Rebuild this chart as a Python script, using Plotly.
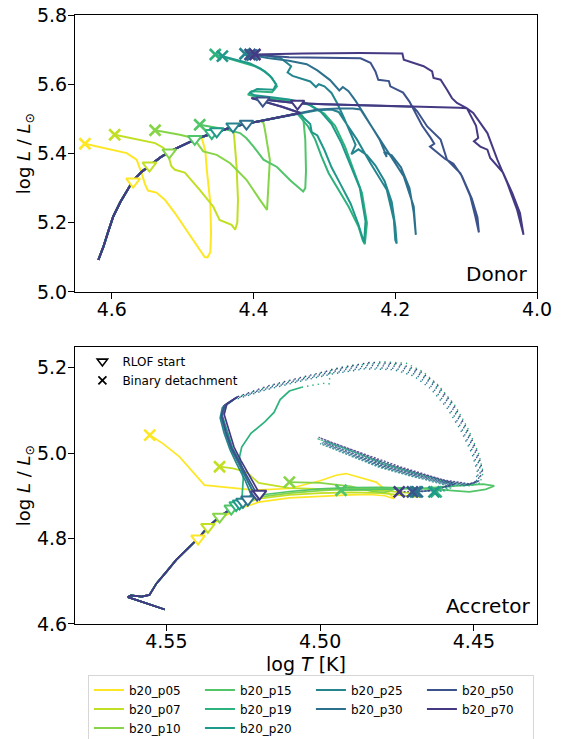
import plotly.graph_objects as go

NAMES = ["b20_p05", "b20_p07", "b20_p10", "b20_p15", "b20_p19",
         "b20_p20", "b20_p25", "b20_p30", "b20_p50", "b20_p70"]
COLORS = ["#fde725", "#c2df23", "#86d549", "#52c569", "#2db27d",
          "#1f9a8a", "#25858e", "#2d708e", "#3b528b", "#443a83"]
LEGEND_RANK = [1, 5, 9, 2, 6, 10, 3, 7, 4, 8]

# ---------------- Donor (top panel) ----------------
MS_DX = [4.619, 4.612, 4.605, 4.598, 4.588, 4.578, 4.570, 4.558, 4.546, 4.532, 4.518,
         4.500, 4.483, 4.470, 4.457, 4.443, 4.429, 4.410, 4.390, 4.370, 4.350, 4.334]
MS_DY = [5.093, 5.130, 5.175, 5.218, 5.260, 5.295, 5.322, 5.347, 5.367, 5.388, 5.406,
         5.424, 5.440, 5.450, 5.459, 5.468, 5.477, 5.486, 5.494, 5.502, 5.510, 5.517]
N_MS_D = [13, 17, 19, 22, 22, 22, 22, 22, 22, 22]
HOOK_DX = [4.360, 4.385, 4.403, 4.387, 4.360, 4.338]
HOOK_DY = [5.535, 5.550, 5.560, 5.556, 5.550, 5.545]
USE_HOOK = [False, False, False, False, False, False, False, False, True, True]

D05_X = [4.473, 4.468, 4.466, 4.461, 4.460, 4.461, 4.465, 4.469, 4.476, 4.492, 4.511, 4.525,
         4.537, 4.549, 4.553, 4.558, 4.565, 4.579, 4.638]
D05_Y = [5.445, 5.406, 5.353, 5.257, 5.170, 5.115, 5.100, 5.101, 5.122, 5.170, 5.228, 5.266,
         5.287, 5.293, 5.310, 5.343, 5.382, 5.401, 5.428]
D07_X = [4.427, 4.424, 4.422, 4.423, 4.426, 4.431, 4.448, 4.457, 4.476, 4.497, 4.511, 4.516,
         4.520, 4.527, 4.539, 4.596]
D07_Y = [5.440, 5.363, 5.266, 5.200, 5.180, 5.194, 5.208, 5.247, 5.295, 5.345, 5.353, 5.363,
         5.392, 5.416, 5.430, 5.454]
D10_X = [4.386, 4.384, 4.377, 4.379, 4.381, 4.391, 4.410, 4.433, 4.452, 4.471, 4.476, 4.485,
         4.504, 4.539]
D10_Y = [5.488, 5.469, 5.382, 5.286, 5.237, 5.266, 5.324, 5.372, 5.396, 5.406, 5.421, 5.445,
         5.454, 5.467]
D15_X = [4.330, 4.327, 4.326, 4.327, 4.330, 4.348, 4.367, 4.386, 4.400, 4.410, 4.419, 4.440,
         4.460, 4.476]
D15_Y = [5.505, 5.440, 5.350, 5.300, 5.290, 5.322, 5.361, 5.382, 5.420, 5.444, 5.459, 5.470,
         5.477, 5.483]
D19_X = [4.337, 4.323, 4.313, 4.304, 4.294, 4.280, 4.266, 4.252, 4.246, 4.243, 4.240, 4.247,
         4.261, 4.271, 4.285, 4.300, 4.320, 4.345, 4.365, 4.394, 4.408, 4.403, 4.374, 4.367,
         4.374, 4.384, 4.398, 4.421, 4.454]
D19_Y = [5.512, 5.478, 5.440, 5.391, 5.343, 5.295, 5.247, 5.189, 5.150, 5.138, 5.199, 5.286,
         5.363, 5.420, 5.480, 5.515, 5.540, 5.552, 5.556, 5.563, 5.570, 5.580, 5.577, 5.594,
         5.618, 5.637, 5.652, 5.666, 5.686]
D20_X = [4.335, 4.320, 4.318, 4.310, 4.300, 4.290, 4.277, 4.263, 4.252, 4.247, 4.244, 4.242,
         4.250, 4.265, 4.276, 4.290, 4.305, 4.325, 4.350, 4.372, 4.398, 4.406, 4.395, 4.372,
         4.368, 4.377, 4.390, 4.405, 4.444]
D20_Y = [5.514, 5.485, 5.462, 5.452, 5.410, 5.360, 5.310, 5.255, 5.195, 5.160, 5.142, 5.205,
         5.300, 5.375, 5.430, 5.485, 5.520, 5.545, 5.556, 5.562, 5.568, 5.575, 5.586, 5.584,
         5.600, 5.625, 5.645, 5.660, 5.681]
D25_X = [4.310, 4.290, 4.280, 4.273, 4.254, 4.235, 4.212, 4.202, 4.200, 4.198, 4.200, 4.205,
         4.215, 4.228, 4.240, 4.252, 4.262, 4.256, 4.265, 4.274, 4.282, 4.290, 4.300, 4.308,
         4.312, 4.320, 4.345, 4.352, 4.347, 4.362, 4.385, 4.412]
D25_Y = [5.525, 5.527, 5.520, 5.498, 5.440, 5.372, 5.295, 5.208, 5.150, 5.140, 5.190, 5.260,
         5.320, 5.365, 5.395, 5.412, 5.398, 5.425, 5.470, 5.510, 5.545, 5.575, 5.594, 5.600,
         5.592, 5.608, 5.624, 5.634, 5.652, 5.676, 5.684, 5.688]
D30_X = [4.310, 4.280, 4.260, 4.249, 4.231, 4.212, 4.188, 4.174, 4.172, 4.171, 4.174, 4.180,
         4.192, 4.205, 4.216, 4.212, 4.222, 4.236, 4.246, 4.256, 4.266, 4.274, 4.279, 4.292,
         4.310, 4.325, 4.350, 4.380, 4.402]
D30_Y = [5.527, 5.530, 5.530, 5.527, 5.469, 5.411, 5.334, 5.247, 5.170, 5.165, 5.230, 5.300,
         5.360, 5.395, 5.405, 5.390, 5.440, 5.488, 5.520, 5.552, 5.580, 5.592, 5.582, 5.612,
         5.640, 5.658, 5.668, 5.676, 5.684]
D50_X = [4.300, 4.250, 4.200, 4.175, 4.169, 4.155, 4.136, 4.127, 4.108, 4.094, 4.087, 4.082,
         4.084, 4.092, 4.106, 4.118, 4.130, 4.151, 4.145, 4.150, 4.162, 4.172, 4.180, 4.189,
         4.207, 4.209, 4.224, 4.228, 4.235, 4.249, 4.300, 4.350, 4.405]
D50_Y = [5.542, 5.540, 5.538, 5.535, 5.522, 5.478, 5.440, 5.382, 5.343, 5.276, 5.218, 5.172,
         5.215, 5.270, 5.335, 5.370, 5.385, 5.420, 5.428, 5.445, 5.480, 5.520, 5.550, 5.576,
         5.594, 5.609, 5.613, 5.637, 5.662, 5.675, 5.676, 5.678, 5.686]
D70_X = [4.300, 4.250, 4.200, 4.150, 4.110, 4.099, 4.090, 4.070, 4.056, 4.042, 4.028, 4.019,
         4.024, 4.035, 4.048, 4.060, 4.066, 4.070, 4.080, 4.089, 4.083, 4.086, 4.094, 4.099,
         4.113, 4.120, 4.127, 4.136, 4.146, 4.148, 4.160, 4.174, 4.188, 4.190, 4.250, 4.330,
         4.398]
D70_Y = [5.542, 5.540, 5.537, 5.534, 5.532, 5.531, 5.517, 5.459, 5.382, 5.315, 5.237, 5.165,
         5.228, 5.286, 5.345, 5.375, 5.387, 5.411, 5.420, 5.435, 5.445, 5.480, 5.510, 5.531,
         5.546, 5.560, 5.584, 5.613, 5.618, 5.637, 5.652, 5.662, 5.671, 5.689, 5.690, 5.689,
         5.686]
D_POST_X = [D05_X, D07_X, D10_X, D15_X, D19_X, D20_X, D25_X, D30_X, D50_X, D70_X]
D_POST_Y = [D05_Y, D07_Y, D10_Y, D15_Y, D19_Y, D20_Y, D25_Y, D30_Y, D50_Y, D70_Y]

RLOF_D_X = [4.570, 4.547, 4.519, 4.483, 4.459, 4.452, 4.429, 4.410, 4.387, 4.338]
RLOF_D_Y = [5.319, 5.365, 5.403, 5.442, 5.459, 5.464, 5.478, 5.486, 5.553, 5.544]
DET_D_X = [4.638, 4.596, 4.539, 4.476, 4.454, 4.444, 4.412, 4.402, 4.405, 4.398]
DET_D_Y = [5.428, 5.454, 5.467, 5.483, 5.686, 5.681, 5.688, 5.684, 5.686, 5.686]

# ---------------- Accretor (bottom panel) ----------------
MS_AX = [4.5505, 4.5555, 4.5600, 4.5625, 4.5615, 4.5580, 4.5555, 4.5532, 4.5500, 4.5468,
         4.5424, 4.5397, 4.5365, 4.5327, 4.5289, 4.5262, 4.5235, 4.5197]
MS_AY = [4.634, 4.646, 4.657, 4.663, 4.667, 4.664, 4.668, 4.695, 4.722, 4.750,
         4.781, 4.800, 4.827, 4.851, 4.870, 4.882, 4.894, 4.905]
N_MS_A = [12, 13, 14, 15, 15, 16, 16, 17, 17, 18]

A05_X = [4.5365, 4.5330, 4.5270, 4.5200, 4.5100, 4.5000, 4.4900, 4.4840, 4.4790, 4.4759,
         4.4786, 4.4818, 4.4872, 4.4916, 4.4948, 4.5000, 4.5100, 4.5213, 4.5376, 4.5457,
         4.5511, 4.5554]
A05_Y = [4.822, 4.845, 4.868, 4.885, 4.895, 4.899, 4.902, 4.903, 4.900, 4.893,
         4.913, 4.932, 4.944, 4.952, 4.948, 4.935, 4.917, 4.913, 4.925, 4.991,
         5.022, 5.042]
A07_X = [4.5327, 4.5289, 4.5250, 4.5200, 4.5100, 4.5000, 4.4900, 4.4800, 4.4720, 4.4680,
         4.4700, 4.4800, 4.4950, 4.5100, 4.5200, 4.5240, 4.5284, 4.5327]
A07_Y = [4.848, 4.866, 4.880, 4.893, 4.902, 4.906, 4.908, 4.906, 4.900, 4.897,
         4.906, 4.912, 4.915, 4.918, 4.930, 4.956, 4.964, 4.968]
A10_X = [4.5289, 4.5250, 4.5200, 4.5100, 4.5000, 4.4900, 4.4800, 4.4760, 4.4790, 4.4830,
         4.4900, 4.5000, 4.5100]
A10_Y = [4.869, 4.884, 4.897, 4.906, 4.912, 4.916, 4.918, 4.915, 4.908, 4.910,
         4.922, 4.930, 4.932]
A15_X = [4.5262, 4.5230, 4.5180, 4.5100, 4.5000, 4.4900, 4.4800, 4.4700, 4.4590, 4.4515,
         4.4462, 4.4434, 4.4470, 4.4560, 4.4680, 4.4800, 4.4932]
A15_Y = [4.880, 4.892, 4.903, 4.910, 4.916, 4.919, 4.920, 4.918, 4.913, 4.909,
         4.915, 4.923, 4.927, 4.922, 4.917, 4.915, 4.913]

# left arm (solid), loop (dotted), band (dense) for long-period accretors
L19_X = [4.5255, 4.5250, 4.5262, 4.5255, 4.5225, 4.5180, 4.5150, 4.5130, 4.5100, 4.5060]
L19_Y = [4.885, 4.940, 4.991, 5.014, 5.046, 5.073, 5.095, 5.125, 5.145, 5.154]
O19_X = [4.5060, 4.4990, 4.4970, 4.4968, 4.4900, 4.4800, 4.4720, 4.4665, 4.4615, 4.4560,
         4.4518, 4.4485, 4.4470, 4.4480]
O19_Y = [5.154, 5.163, 5.162, 5.195, 5.205, 5.214, 5.210, 5.190, 5.158, 5.110,
         5.055, 5.000, 4.955, 4.930]
B19_X = [4.4480, 4.4512, 4.4590, 4.4680, 4.4790, 4.4895, 4.4985, 4.5010, 4.4960, 4.4850,
         4.4740, 4.4630, 4.4560, 4.4590, 4.4623]
B19_Y = [4.930, 4.923, 4.932, 4.950, 4.972, 5.004, 5.028, 5.034, 5.020, 4.992,
         4.965, 4.942, 4.925, 4.912, 4.909]
L20_X = [4.5235, 4.5215, 4.5240, 4.5262, 4.5285, 4.5302, 4.5318, 4.5308, 4.5272]
L20_Y = [4.893, 4.905, 4.942, 4.981, 5.012, 5.051, 5.087, 5.112, 5.130]
O20_X = [4.5272, 4.5168, 4.5058, 4.4952, 4.4843, 4.4748, 4.4682, 4.4627, 4.4572, 4.4529,
         4.4493, 4.4475, 4.4486]
O20_Y = [5.130, 5.156, 5.176, 5.195, 5.209, 5.207, 5.191, 5.160, 5.114, 5.060,
         5.003, 4.959, 4.934]
B20_X = [4.4486, 4.4518, 4.4595, 4.4683, 4.4790, 4.4898, 4.4985, 4.4965, 4.4860, 4.4750,
         4.4645, 4.4565, 4.4600, 4.4630]
B20_Y = [4.934, 4.927, 4.935, 4.951, 4.973, 5.005, 5.028, 5.022, 4.994, 4.966,
         4.944, 4.927, 4.913, 4.909]
L25_X = [4.5230, 4.5225, 4.5245, 4.5272, 4.5293, 4.5312, 4.5325, 4.5318, 4.5285]
L25_Y = [4.895, 4.904, 4.938, 4.976, 5.008, 5.046, 5.082, 5.106, 5.123]
O25_X = [4.5285, 4.5180, 4.5070, 4.4960, 4.4855, 4.4760, 4.4695, 4.4640, 4.4586, 4.4542,
         4.4506, 4.4488, 4.4497]
O25_Y = [5.123, 5.147, 5.167, 5.185, 5.197, 5.195, 5.180, 5.150, 5.104, 5.052,
         4.998, 4.954, 4.930]
B25_X = [4.4497, 4.4530, 4.4610, 4.4700, 4.4810, 4.4915, 4.5000, 4.4980, 4.4880, 4.4770,
         4.4660, 4.4580, 4.4640, 4.4690]
B25_Y = [4.930, 4.923, 4.930, 4.945, 4.967, 4.998, 5.022, 5.016, 4.988, 4.960,
         4.938, 4.922, 4.911, 4.909]
L30_X = [4.5215, 4.5240, 4.5268, 4.5290, 4.5308, 4.5322, 4.5314, 4.5280]
L30_Y = [4.904, 4.940, 4.978, 5.010, 5.048, 5.085, 5.110, 5.126]
O30_X = [4.5280, 4.5175, 4.5066, 4.4955, 4.4850, 4.4755, 4.4690, 4.4636, 4.4582, 4.4538,
         4.4502, 4.4484, 4.4493]
O30_Y = [5.126, 5.150, 5.170, 5.188, 5.200, 5.198, 5.184, 5.154, 5.108, 5.055,
         5.000, 4.956, 4.932]
B30_X = [4.4493, 4.4525, 4.4605, 4.4695, 4.4805, 4.4910, 4.4995, 4.4975, 4.4875, 4.4765,
         4.4655, 4.4575, 4.4640, 4.4684]
B30_Y = [4.932, 4.925, 4.932, 4.947, 4.969, 5.000, 5.024, 5.018, 4.990, 4.962,
         4.940, 4.924, 4.912, 4.909]
L50_X = [4.5205, 4.5235, 4.5265, 4.5288, 4.5306, 4.5320, 4.5310, 4.5275]
L50_Y = [4.903, 4.942, 4.980, 5.012, 5.050, 5.088, 5.112, 5.128]
O50_X = [4.5275, 4.5170, 4.5060, 4.4950, 4.4845, 4.4750, 4.4685, 4.4630, 4.4576, 4.4532,
         4.4496, 4.4478, 4.4488]
O50_Y = [5.128, 5.153, 5.173, 5.192, 5.205, 5.203, 5.188, 5.158, 5.112, 5.058,
         5.002, 4.958, 4.933]
B50_X = [4.4488, 4.4520, 4.4600, 4.4690, 4.4800, 4.4905, 4.4990, 4.4970, 4.4870, 4.4760,
         4.4650, 4.4570, 4.4650, 4.4700]
B50_Y = [4.933, 4.926, 4.934, 4.949, 4.971, 5.002, 5.026, 5.020, 4.993, 4.964,
         4.942, 4.926, 4.912, 4.909]
L70_X = [4.5197, 4.5228, 4.5258, 4.5280, 4.5297, 4.5312, 4.5303, 4.5268]
L70_Y = [4.905, 4.944, 4.983, 5.014, 5.053, 5.090, 5.115, 5.132]
O70_X = [4.5268, 4.5165, 4.5056, 4.4948, 4.4840, 4.4743, 4.4678, 4.4623, 4.4569, 4.4526,
         4.4490, 4.4472, 4.4483]
O70_Y = [5.132, 5.158, 5.178, 5.197, 5.212, 5.209, 5.193, 5.162, 5.116, 5.061,
         5.005, 4.960, 4.935]
B70_X = [4.4483, 4.4515, 4.4591, 4.4678, 4.4786, 4.4894, 4.4981, 4.5005, 4.4960, 4.4850,
         4.4740, 4.4640, 4.4560, 4.4640, 4.4743]
B70_Y = [4.935, 4.928, 4.936, 4.952, 4.975, 5.007, 5.030, 5.037, 5.024, 4.996,
         4.968, 4.946, 4.928, 4.912, 4.909]

A_POST_X = [A05_X, A07_X, A10_X, A15_X, L19_X, L20_X, L25_X, L30_X, L50_X, L70_X]
A_POST_Y = [A05_Y, A07_Y, A10_Y, A15_Y, L19_Y, L20_Y, L25_Y, L30_Y, L50_Y, L70_Y]
A_LOOP_X = [None, None, None, None, O19_X, O20_X, O25_X, O30_X, O50_X, O70_X]
A_LOOP_Y = [None, None, None, None, O19_Y, O20_Y, O25_Y, O30_Y, O50_Y, O70_Y]
A_BAND_X = [None, None, None, None, B19_X, B20_X, B25_X, B30_X, B50_X, B70_X]
A_BAND_Y = [None, None, None, None, B19_Y, B20_Y, B25_Y, B30_Y, B50_Y, B70_Y]

RLOF_A_X = [4.5397, 4.5365, 4.5327, 4.5289, 4.5273, 4.5262, 4.5251, 4.5235, 4.5205, 4.5197]
RLOF_A_Y = [4.800, 4.827, 4.851, 4.870, 4.878, 4.882, 4.886, 4.891, 4.903, 4.905]
DET_A_X = [4.5554, 4.5327, 4.5100, 4.4932, 4.4623, 4.4630, 4.4690, 4.4684, 4.4700, 4.4743]
DET_A_Y = [5.042, 4.968, 4.932, 4.913, 4.909, 4.909, 4.909, 4.909, 4.909, 4.909]

X_TICKS_D = [4.6, 4.4, 4.2, 4.0]
Y_TICKS_D = [5.0, 5.2, 5.4, 5.6, 5.8]
X_TICKS_A = [4.55, 4.50, 4.45]
Y_TICKS_A = [4.6, 4.8, 5.0, 5.2]

FONT = "DejaVu Sans"
fig = go.Figure()

# donor lines
for i, name in enumerate(NAMES):
    xs = MS_DX[:N_MS_D[i]]
    ys = MS_DY[:N_MS_D[i]]
    if USE_HOOK[i]:
        xs = xs + HOOK_DX
        ys = ys + HOOK_DY
    xs = xs + D_POST_X[i]
    ys = ys + D_POST_Y[i]
    fig.add_trace(go.Scatter(
        x=xs, y=ys, mode="lines", name=name, legendrank=LEGEND_RANK[i],
        line=dict(color=COLORS[i], width=2), showlegend=True, legend="legend",
        xaxis="x", yaxis="y", hoverinfo="skip"))

# accretor lines
for i, name in enumerate(NAMES):
    xs = MS_AX[:N_MS_A[i]] + A_POST_X[i]
    ys = MS_AY[:N_MS_A[i]] + A_POST_Y[i]
    fig.add_trace(go.Scatter(
        x=xs, y=ys, mode="lines", showlegend=False,
        line=dict(color=COLORS[i], width=1.7), xaxis="x2", yaxis="y2", hoverinfo="skip"))
    if A_LOOP_X[i] is not None:
        fig.add_trace(go.Scatter(
            x=A_LOOP_X[i], y=A_LOOP_Y[i], mode="lines", showlegend=False,
            line=dict(color=COLORS[i], width=1.4, dash="1.4px,4px"),
            xaxis="x2", yaxis="y2", hoverinfo="skip"))
        fig.add_trace(go.Scatter(
            x=A_BAND_X[i], y=A_BAND_Y[i], mode="lines", showlegend=False, opacity=0.85,
            line=dict(color=COLORS[i], width=1.3, dash="2px,1.5px"),
            xaxis="x2", yaxis="y2", hoverinfo="skip"))

# markers
for ax, ay, rx, ry, dx, dy in [("x", "y", RLOF_D_X, RLOF_D_Y, DET_D_X, DET_D_Y),
                               ("x2", "y2", RLOF_A_X, RLOF_A_Y, DET_A_X, DET_A_Y)]:
    for i in range(len(NAMES)):
        fig.add_trace(go.Scatter(
            x=[rx[i]], y=[ry[i]], mode="markers", showlegend=False,
            marker=dict(symbol="triangle-down", size=12, color="white",
                        line=dict(color=COLORS[i], width=2)),
            xaxis=ax, yaxis=ay, hoverinfo="skip"))
    for i in range(len(NAMES)):
        fig.add_trace(go.Scatter(
            x=[dx[i]], y=[dy[i]], mode="markers", showlegend=False,
            marker=dict(symbol="x-thin", size=11, color=COLORS[i],
                        line=dict(color=COLORS[i], width=2.6)),
            xaxis=ax, yaxis=ay, hoverinfo="skip"))

# marker legend entries
fig.add_trace(go.Scatter(x=[None], y=[None], mode="markers", name="RLOF start",
                         legend="legend2", xaxis="x2", yaxis="y2",
                         marker=dict(symbol="triangle-down", size=9, color="white",
                                     line=dict(color="black", width=1.6))))
fig.add_trace(go.Scatter(x=[None], y=[None], mode="markers", name="Binary detachment",
                         legend="legend2", xaxis="x2", yaxis="y2",
                         marker=dict(symbol="x-thin", size=8, color="black",
                                     line=dict(color="black", width=1.8))))

axis_common = dict(showline=True, linecolor="black", linewidth=1.2, mirror=True,
                   ticks="outside", ticklen=6, tickwidth=1.2, tickcolor="black",
                   showgrid=False, zeroline=False,
                   tickfont=dict(family=FONT, size=19, color="black"))

ylabel = "log <i>L</i> / <i>L</i><sub>⊙</sub>"
fig.update_layout(
    width=561, height=739,
    margin=dict(l=75, r=24, t=15, b=115, autoexpand=False),
    paper_bgcolor="white", plot_bgcolor="white",
    font=dict(family=FONT, color="black"),
    xaxis=dict(domain=[0, 1], range=[4.652, 4.0], anchor="y", ticklabelstandoff=-6,
               tickvals=X_TICKS_D, ticktext=[f"{v:.1f}" for v in X_TICKS_D], **axis_common),
    yaxis=dict(domain=[0.5452, 1], range=[5.0, 5.8], anchor="x", ticklabelstandoff=-3,
               tickvals=Y_TICKS_D, ticktext=[f"{v:.1f}" for v in Y_TICKS_D],
               title=dict(text=ylabel, font=dict(family=FONT, size=18), standoff=0),
               **axis_common),
    xaxis2=dict(domain=[0, 1], range=[4.5797, 4.4295], anchor="y2", ticklabelstandoff=-6,
                tickvals=X_TICKS_A, ticktext=[f"{v:.2f}" for v in X_TICKS_A],
                title=dict(text="log <i>T</i> [K]", font=dict(family=FONT, size=19), standoff=6),
                **axis_common),
    yaxis2=dict(domain=[0, 0.4548], range=[4.6, 5.248], anchor="x2", ticklabelstandoff=-3,
                tickvals=Y_TICKS_A, ticktext=[f"{v:.1f}" for v in Y_TICKS_A],
                title=dict(text=ylabel, font=dict(family=FONT, size=18), standoff=0),
                **axis_common),
    legend=dict(orientation="h", x=0.028, y=-0.083, xanchor="left", yanchor="top",
                entrywidth=66, entrywidthmode="pixels",
                bgcolor="white", bordercolor="#d6d6d6", borderwidth=1,
                font=dict(family=FONT, size=12), tracegroupgap=0),
    legend2=dict(x=0.016, y=0.455, xanchor="left", yanchor="top",
                 bgcolor="rgba(0,0,0,0)", borderwidth=0,
                 font=dict(family=FONT, size=12)),
    annotations=[
        dict(text="Donor", xref="x domain", yref="y domain", x=0.985, y=0.015,
             xanchor="right", yanchor="bottom", showarrow=False,
             font=dict(family=FONT, size=20, color="black")),
        dict(text="Accretor", xref="x2 domain", yref="y2 domain", x=0.99, y=0.015,
             xanchor="right", yanchor="bottom", showarrow=False,
             font=dict(family=FONT, size=20, color="black")),
    ],
)

fig.write_html("out.html", config={"displayModeBar": False},
               post_script="document.body.style.margin='0px';")
